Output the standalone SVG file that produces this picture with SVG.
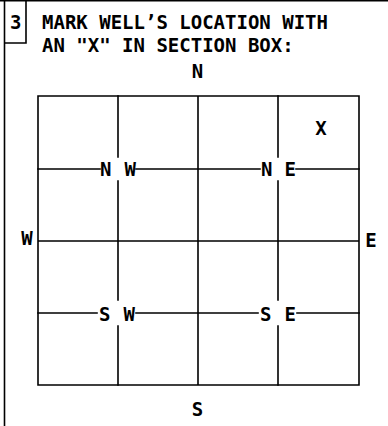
<svg xmlns="http://www.w3.org/2000/svg" width="388" height="426" viewBox="0 0 388 426">
<style>
.ln{stroke:#000;stroke-width:1.6;fill:none;stroke-linecap:square}
.t{font-family:"DejaVu Sans Mono","Liberation Mono",monospace;font-weight:bold;font-size:19px;fill:#000}
</style>
<rect width="388" height="426" fill="#fff"/>
<g id="frame">
<path class="ln" d="M0 0.8H388M4.5 0V426M26 0V43M4.5 43H26"/>
</g>
<g id="heading">
<text class="t" x="10" y="29">3</text>
<text class="t" x="42" y="29">MARK WELL’S LOCATION WITH</text>
<text class="t" x="42" y="51.5">AN "X" IN SECTION BOX:</text>
</g>
<g id="connectors">
<path class="ln" d="M38 96H359M38 385H359M38 241H359M38 96V385M359 96V385M198 96V385"/>
<path class="ln" d="M38 169H100M136 169H260M296 169H359"/>
<path class="ln" d="M38 313H97M136 313H258M297 313H359"/>
<path class="ln" d="M118 96V157M118 181V300M118 326V385"/>
<path class="ln" d="M278 96V157M278 181V300M278 326V385"/>
</g>
<g id="label-N"><text class="t" x="197.5" y="78" text-anchor="middle">N</text></g>
<g id="label-S"><text class="t" x="197.5" y="416" text-anchor="middle">S</text></g>
<g id="label-W"><text class="t" x="27" y="245" text-anchor="middle">W</text></g>
<g id="label-E"><text class="t" x="371" y="247" text-anchor="middle">E</text></g>
<g id="label-X"><text class="t" x="321" y="135" text-anchor="middle">X</text></g>
<g id="label-NW"><text class="t" x="100" y="176" textLength="36" lengthAdjust="spacing">N W</text></g>
<g id="label-NE"><text class="t" x="261" y="176" textLength="35" lengthAdjust="spacing">N E</text></g>
<g id="label-SW"><text class="t" x="99" y="321" textLength="36" lengthAdjust="spacing">S W</text></g>
<g id="label-SE"><text class="t" x="260" y="321" textLength="36" lengthAdjust="spacing">S E</text></g>
</svg>
